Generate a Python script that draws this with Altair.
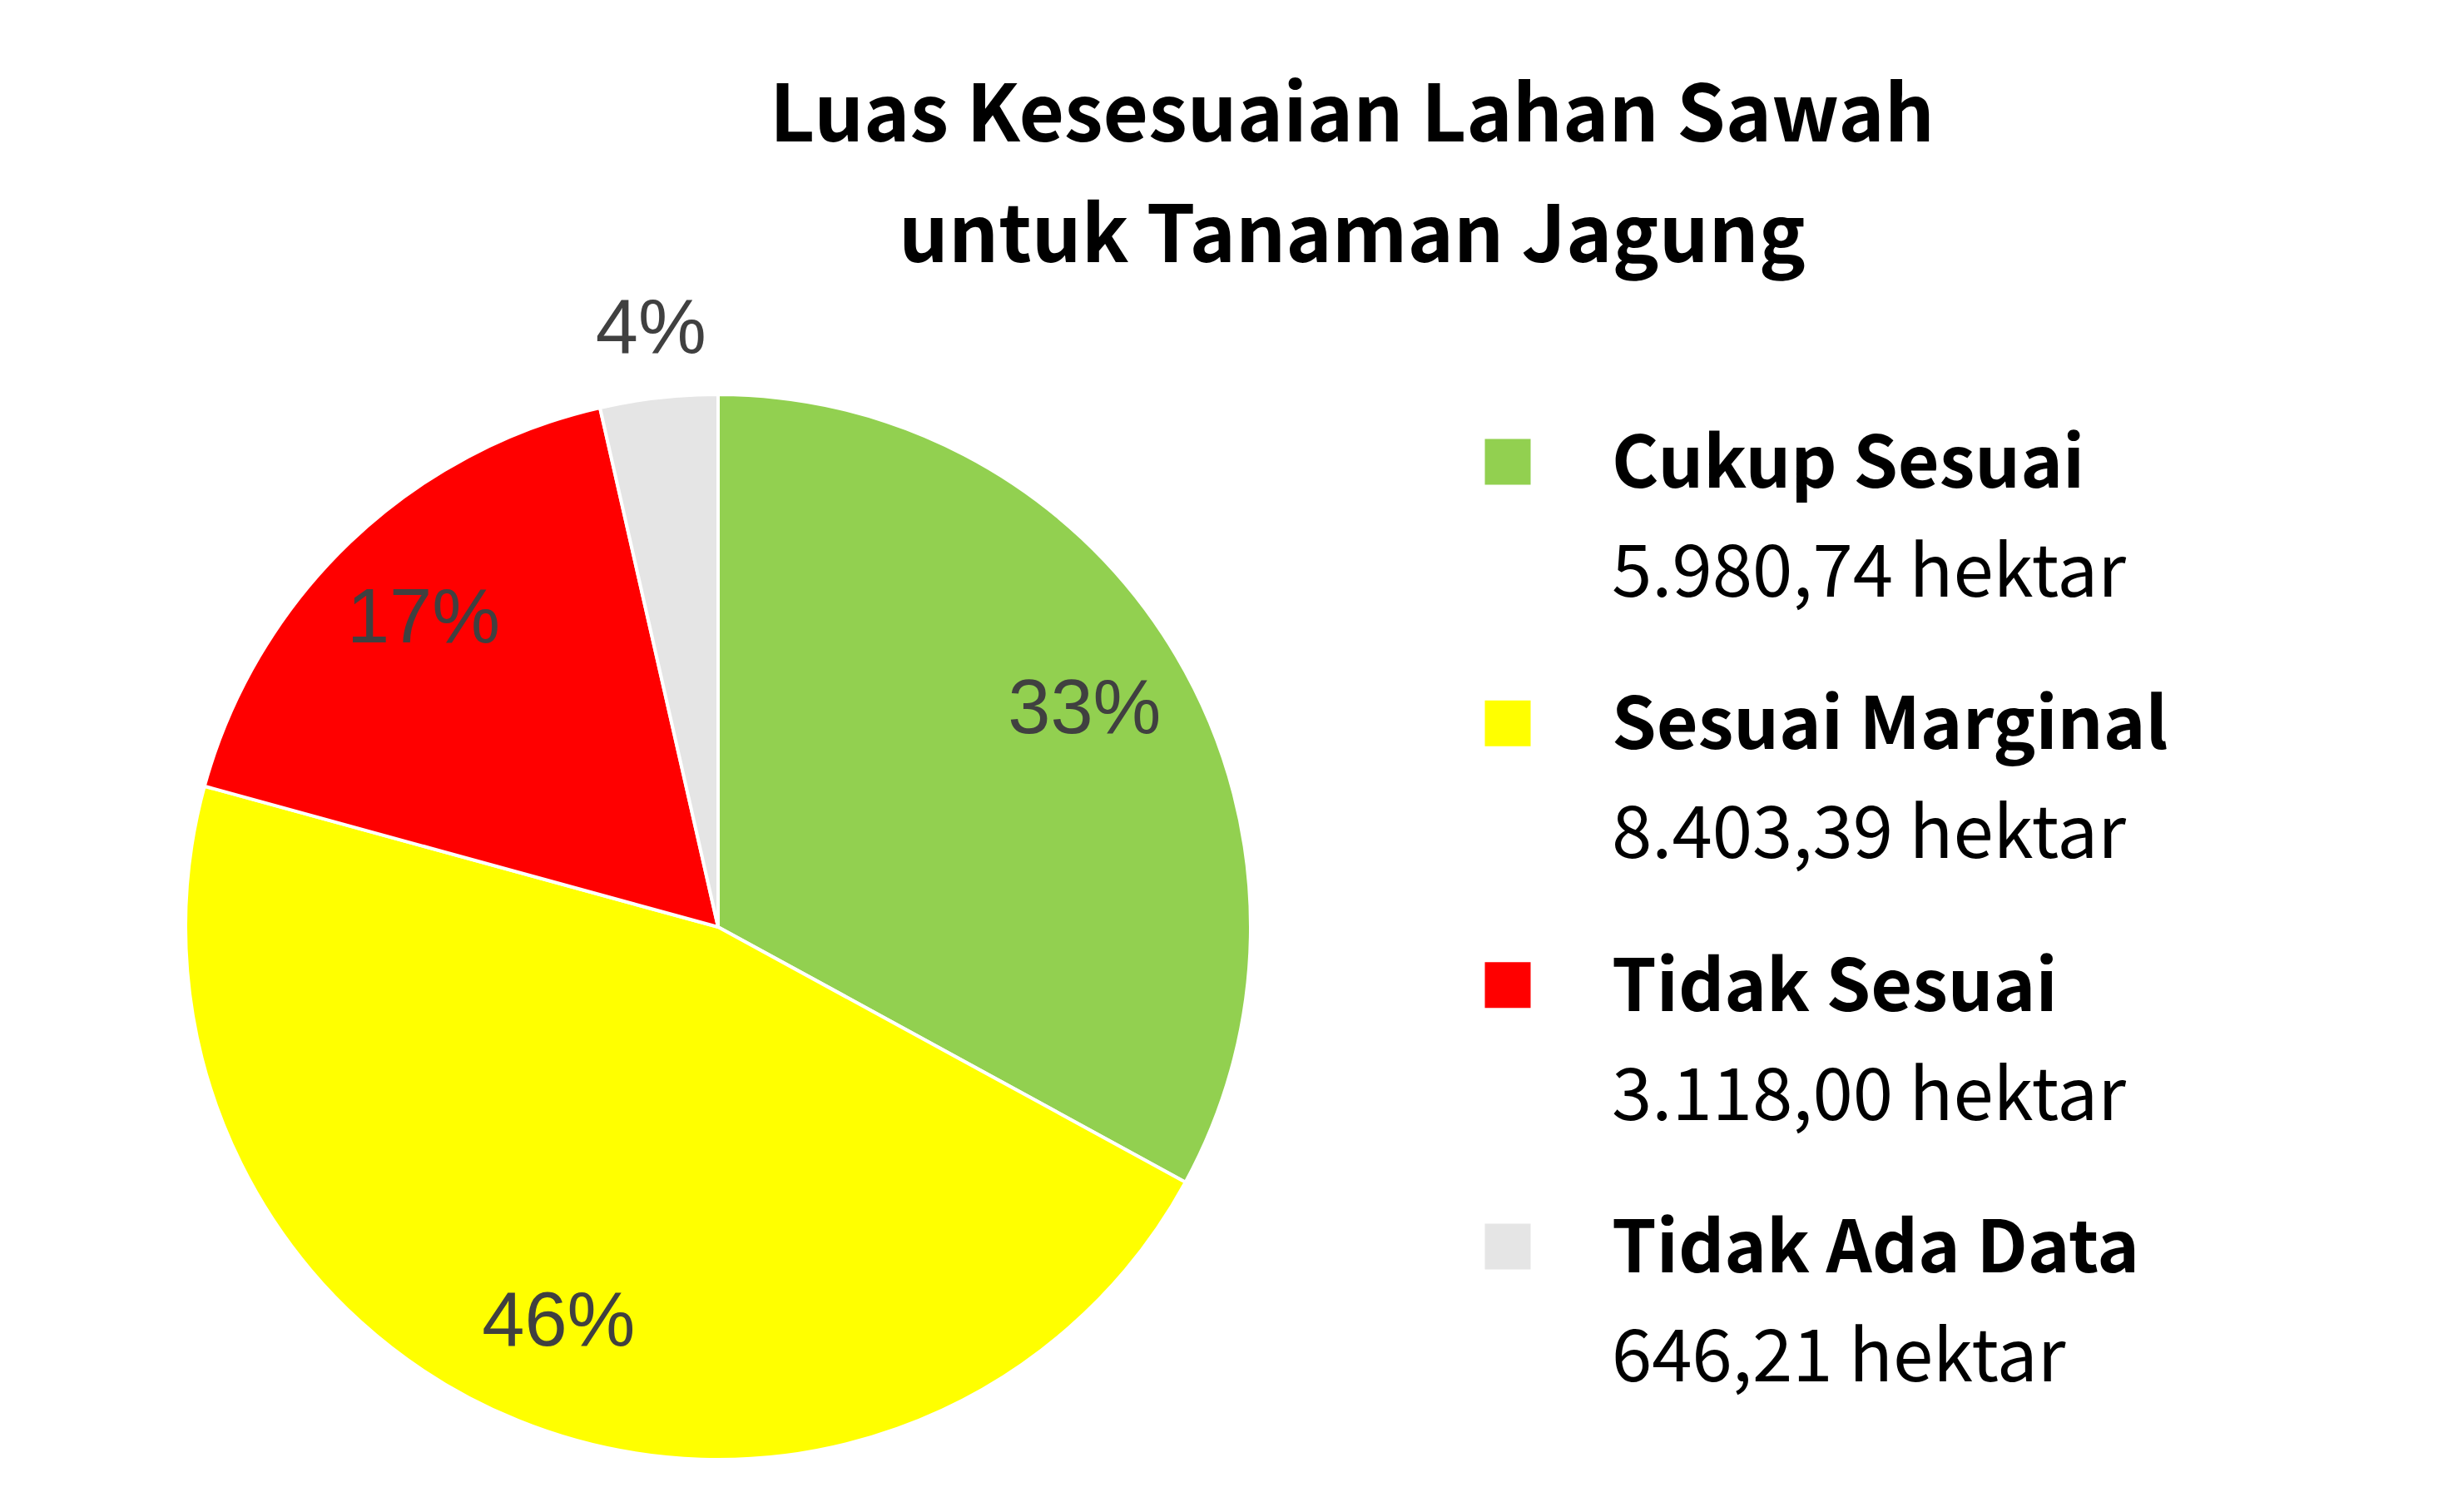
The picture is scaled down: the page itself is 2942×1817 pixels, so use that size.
import altair as alt
import pandas as pd

# ---- data ----
kategori = ["Cukup Sesuai", "Sesuai Marginal", "Tidak Sesuai", "Tidak Ada Data"]
luas = [5980.74, 8403.39, 3118.00, 646.21]
urut = [1, 2, 3, 4]
warna = ["#92D050", "#FFFF00", "#FF0000", "#E5E5E5"]
judul = ["Luas Kesesuaian Lahan Sawah", "untuk Tanaman Jagung"]


def format_id(v):
    s = f"{v:,.2f}"
    return s.replace(",", "_").replace(".", ",").replace("_", ".") + " hektar"


df = pd.DataFrame({
    "kategori": kategori,
    "luas": luas,
    "urut": urut,
    "keterangan": [format_id(v) for v in luas],
})

color = alt.Color("kategori:N", scale=alt.Scale(domain=kategori, range=warna), legend=None)
theta = alt.Theta("luas:Q", stack=True)
order = alt.Order("urut:Q")

base = (
    alt.Chart(df)
    .transform_joinaggregate(total="sum(luas)")
    .transform_calculate(persen="datum.luas / datum.total")
)

pie = base.mark_arc(outerRadius=640, stroke="white", strokeWidth=4).encode(
    theta=theta, color=color, order=order
)

label_style = dict(font="Liberation Sans", fontSize=92, color="#404040",
                   align="center", baseline="middle")

label_dalam = base.mark_text(radius=512, **label_style).encode(
    theta=theta, order=order,
    text=alt.condition("datum.persen >= 0.05",
                       alt.Text("persen:Q", format=".0%"), alt.value("")),
)
label_luar = base.mark_text(radius=723, **label_style).encode(
    theta=theta, order=order,
    text=alt.condition("datum.persen < 0.05",
                       alt.Text("persen:Q", format=".0%"), alt.value("")),
)

pie_panel = alt.layer(pie, label_dalam, label_luar).properties(width=1710, height=1370)

# ---- legend panel ----
y_leg = alt.Y("kategori:N", sort=kategori, axis=None,
              scale=alt.Scale(type="point", range=[126, 1069], padding=0))

kotak = alt.Chart(df).mark_square(size=3025, opacity=1).encode(
    x=alt.value(94), y=y_leg, color=color
)
nama = alt.Chart(df).mark_text(
    align="left", baseline="alphabetic", dy=31, font="Noto Sans CJK SC",
    fontWeight="bold", fontSize=86, color="black"
).encode(x=alt.value(219), y=y_leg, text="kategori:N")
nilai = alt.Chart(df).mark_text(
    align="left", baseline="alphabetic", dy=162, font="Noto Sans CJK SC",
    fontWeight="normal", fontSize=87, color="black"
).encode(x=alt.value(219), y=y_leg, text="keterangan:N")

legend_panel = alt.layer(kotak, nama, nilai).properties(width=1200, height=1370)

chart = (
    alt.hconcat(pie_panel, legend_panel, spacing=0)
    .properties(
        title=alt.TitleParams(
            text=judul, font="Noto Sans CJK SC", fontSize=94, fontWeight="bold",
            lineHeight=145, color="black", anchor="middle", dx=162, offset=15,
        ),
        padding={"top": 86, "left": 0, "right": 0, "bottom": 0},
    )
    .configure_view(stroke=None)
)

chart.save("out.html", embed_options={"renderer": "svg", "actions": False})
